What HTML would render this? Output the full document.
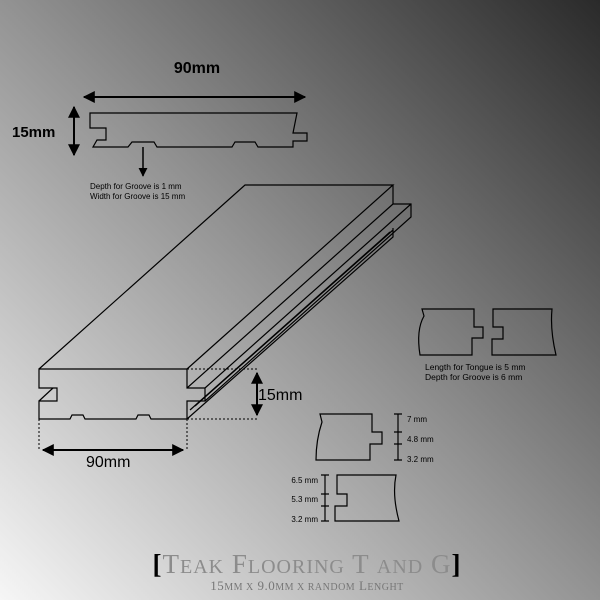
<!DOCTYPE html>
<html><head><meta charset="utf-8"><style>html,body{margin:0;padding:0;width:600px;height:600px;overflow:hidden}</style></head><body>
<svg width="600" height="600" viewBox="0 0 600 600" xmlns="http://www.w3.org/2000/svg">
<defs>
<linearGradient id="bg" x1="0" y1="1" x2="1" y2="0">
<stop offset="0" stop-color="#f6f6f6"/>
<stop offset="0.5" stop-color="#939393"/>
<stop offset="1" stop-color="#2a2a2a"/>
</linearGradient>
<marker id="ah" viewBox="0 0 10 10" refX="9" refY="5" markerWidth="6" markerHeight="6" orient="auto-start-reverse"><path d="M0,0L10,5L0,10z" fill="#000"/></marker>
</defs>
<rect width="600" height="600" fill="url(#bg)"/>
<g fill="none" stroke="#000" stroke-width="1.2">
<!-- top profile -->
<path d="M90,113 L297,113 L293,133 L307,133 L307,141 L293,141 L293,147 L258,147 L255,142 L235,142 L232,147 L157,147 L154,142 L132,142 L128,147 L93,147 L97,140 L106,140 L106,128 L90,128 Z"/>
<line x1="84" y1="97" x2="305" y2="97" marker-start="url(#ah)" marker-end="url(#ah)" stroke-width="2"/>
<line x1="74" y1="107" x2="74" y2="155" marker-start="url(#ah)" marker-end="url(#ah)" stroke-width="2"/>
<line x1="143" y1="147" x2="143" y2="176" marker-end="url(#ah)" stroke-width="1.5"/>
<!-- 3D board -->
<path d="M39,369 L187,369 L187,388 L205,388 L205,401 L187,401 L187,419 L151,419 L149,415 L138,415 L136,419 L85,419 L83,415 L72,415 L70,419 L39,419 L39,401 L57,401 L57,388 L39,388 Z"/>
<path d="M39,401 L53,388"/>
<path d="M39,369 L245,185 L393,185 L187,369"/>
<path d="M393,185 L393,204 L411,204 L411,217 L205,401 M393,204 L187,388 M411,204 L205,388 M393,228 L393,237 L187,419 M390,232 L190,410 M393,230 L195,406"/>
<g stroke-dasharray="2,2" stroke-width="1">
<line x1="187" y1="369" x2="257" y2="369"/><line x1="187" y1="419" x2="257" y2="419"/>
<line x1="39" y1="419" x2="39" y2="450"/><line x1="187" y1="419" x2="187" y2="450"/>
</g>
<line x1="43" y1="450" x2="183" y2="450" marker-start="url(#ah)" marker-end="url(#ah)" stroke-width="2"/>
<line x1="257" y1="373" x2="257" y2="415" marker-start="url(#ah)" marker-end="url(#ah)" stroke-width="2"/>
<!-- joint -->
<path d="M422,309 L474,309 L474,327 L483,327 L483,338 L472,338 L472,355 L420,355 Q416,330 424,316 Z"/>
<path d="M493,309 L552,309 Q550,330 556,355 L492,355 L492,339 L503,339 L503,327 L493,327 Z"/>
<!-- middle piece -->
<path d="M320,414 L372,414 L372,432 L382,432 L382,444 L370,444 L370,460 L316,460 Q316,440 322,422 Z"/>
<path d="M398,414 L398,460 M394,414 L402,414 M394,432 L402,432 M394,444 L402,444 M394,460 L402,460"/>
<!-- bottom piece -->
<path d="M337,475 L396,475 Q392,495 399,521 L335,521 L335,506 L347,506 L347,494 L337,494 Z"/>
<path d="M325,475 L325,521 M321,475 L329,475 M321,494 L329,494 M321,506 L329,506 M321,521 L329,521"/>
</g>
<g font-family="Liberation Sans, sans-serif" fill="#000">
<text x="197" y="73" font-size="16" font-weight="bold" text-anchor="middle">90mm</text>
<text x="12" y="137" font-size="15" font-weight="bold">15mm</text>
<text x="90" y="189" font-size="8">Depth for Groove is 1 mm</text>
<text x="90" y="199" font-size="8">Width for Groove is 15 mm</text>
<text x="86" y="467" font-size="16">90mm</text>
<text x="258" y="400" font-size="16">15mm</text>
<text x="425" y="370" font-size="8.5">Length for Tongue is 5 mm</text>
<text x="425" y="380" font-size="8.5">Depth for Groove is 6 mm</text>
<text x="407" y="422" font-size="8">7 mm</text>
<text x="407" y="442" font-size="8">4.8 mm</text>
<text x="407" y="462" font-size="8">3.2 mm</text>
<text x="318" y="483" font-size="8" text-anchor="end">6.5 mm</text>
<text x="318" y="502" font-size="8" text-anchor="end">5.3 mm</text>
<text x="318" y="522" font-size="8" text-anchor="end">3.2 mm</text>
</g>
<g font-family="Liberation Serif, serif" text-anchor="middle">
<text x="307" y="573" font-size="27" fill="#8c8c8c" letter-spacing="1"><tspan fill="#000" font-weight="bold">[</tspan>T<tspan font-size="20">EAK</tspan> F<tspan font-size="20">LOORING</tspan> T <tspan font-size="20">AND</tspan> G<tspan fill="#000" font-weight="bold">]</tspan></text>
<text x="307" y="590" font-size="13" fill="#777" letter-spacing="0.5">15<tspan font-size="10">MM X</tspan> 9.0<tspan font-size="10">MM X RANDOM</tspan> L<tspan font-size="10">ENGHT</tspan></text>
</g>
</svg>
</body></html>
